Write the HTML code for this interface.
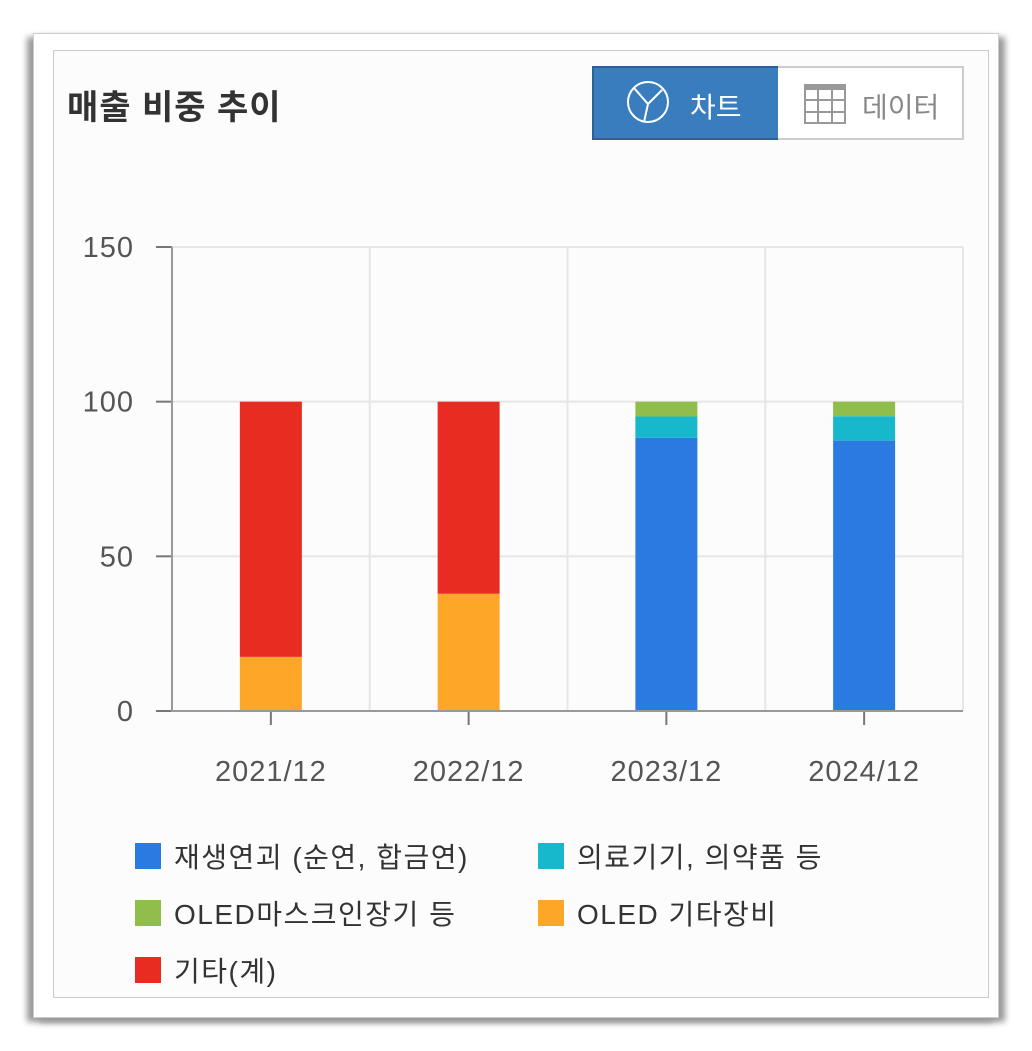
<!DOCTYPE html>
<html><head><meta charset="utf-8"><style>
body{margin:0;width:1032px;height:1051px;background:#fff;font-family:"Liberation Sans","Noto Sans CJK KR",sans-serif;position:relative;overflow:hidden}
#outer{position:absolute;left:33px;top:33px;width:964px;height:983px;border:1px solid #ccc;background:#fff;box-shadow:-6px 4px 6px #999,6px 4px 6px #999}
#inner{position:absolute;left:53px;top:50px;width:934px;height:946px;border:1px solid #ccc;background:#fdfcfd}
.t{position:absolute;white-space:nowrap}
</style></head><body>
<div id="outer"></div>
<div id="inner"></div>
<div class="t" style="left:67px;top:80px;font-size:34px;font-weight:bold;color:#333;letter-spacing:1px">매출 비중 추이</div>
<div style="position:absolute;left:592px;top:66px;width:184px;height:70px;background:#3a7dbf;border:2px solid #2b609a">
<svg width="50" height="50" style="position:absolute;left:32px;top:12px"><circle cx="22" cy="22" r="20" fill="none" stroke="#fff" stroke-width="2"/><path d="M8 8L22 24L36 10M22 24L18 42" fill="none" stroke="#fff" stroke-width="2"/></svg>
<span class="t" style="left:96px;top:18px;font-size:28px;color:#fff">차트</span></div>
<div style="position:absolute;left:778px;top:66px;width:184px;height:70px;background:#fff;border:2px solid #ccc;border-left:none">
<svg width="44" height="44" style="position:absolute;left:26px;top:16px"><rect x="1" y="1" width="40" height="38" fill="none" stroke="#999" stroke-width="2"/><rect x="1" y="1" width="40" height="5" fill="#999"/><path d="M14 1V39M28 1V39M1 16H41M1 28H41" stroke="#999" stroke-width="2"/></svg>
<span class="t" style="left:84px;top:18px;font-size:28px;color:#888">데이터</span></div>
<svg id="c" width="1032" height="1051" style="position:absolute;left:0;top:0"></svg>
<script>
const categories=["2021/12","2022/12","2023/12","2024/12"];
const seriesNames=["재생연괴 (순연, 합금연)","의료기기, 의약품 등","OLED마스크인장기 등","OLED 기타장비","기타(계)"];
const colors=["#2a7ae2","#17b8cc","#8fbf4a","#fda628","#e82c22"];
const s0=[0,0,88.3,87.4];
const s1=[0,0,6.9,7.9];
const s2=[0,0,4.8,4.7];
const s3=[17.5,37.9,0,0];
const s4=[82.5,62.1,0,0];
const series=[s0,s1,s2,s3,s4];
const stackOrder=[3,0,1,2,4];
const yTicks=[0,50,100,150];
const svg=document.getElementById('c'),NS="http://www.w3.org/2000/svg";
const X0=172,X1=963,Y0=711,Y1=247,ymax=150;
const bw=(X1-X0)/categories.length;
const y=v=>Y0-(v/ymax)*(Y0-Y1);
const xc=i=>X0+bw*(i+0.5);
function mk(t,a){const e=document.createElementNS(NS,t);for(const k in a)e.setAttribute(k,a[k]);svg.appendChild(e);return e;}
yTicks.forEach(t=>{
 let l=mk('line',{x1:X0,x2:X1,y1:y(t),y2:y(t),stroke:'#e6e6e6','stroke-width':2});
 
 let k=mk('line',{x1:X0-16,x2:X0,y1:y(t),y2:y(t),stroke:'#777','stroke-width':2});
 
 let tx=mk('text',{x:X0-38,y:y(t)+10,'text-anchor':'end','font-size':29,fill:'#555','font-family':'Liberation Sans, sans-serif','letter-spacing':1});tx.textContent=t;
 
});
categories.forEach((c,i)=>{
 let g=mk('line',{x1:X0+bw*(i+1),x2:X0+bw*(i+1),y1:Y1,y2:Y0,stroke:'#e6e6e6','stroke-width':2});
 
 let base=0;
 stackOrder.forEach(si=>{const v=series[si][i];if(!v)return;
  let r=mk('rect',{x:xc(i)-31,y:y(base+v),width:62,height:y(base)-y(base+v),fill:colors[si]});
  
  base+=v;});
 let k=mk('line',{x1:xc(i),x2:xc(i),y1:Y0,y2:Y0+14,stroke:'#777','stroke-width':2});
 
 let tx=mk('text',{x:xc(i),y:781,'text-anchor':'middle','font-size':29,fill:'#555','font-family':'Liberation Sans, sans-serif','letter-spacing':1});tx.textContent=c;
 
});
let ax=mk('line',{x1:X0,x2:X0,y1:Y1,y2:Y0+1,stroke:'#999','stroke-width':2});

let bx=mk('line',{x1:X0,x2:X1,y1:Y0,y2:Y0,stroke:'#999','stroke-width':2});

const lp=[[135,843],[538,843],[135,900],[538,900],[135,957]];
seriesNames.forEach((n,i)=>{
 let r=mk('rect',{x:lp[i][0],y:lp[i][1],width:26,height:26,fill:colors[i]});
 
 let t=mk('text',{x:lp[i][0]+39,y:lp[i][1]+24,'font-size':28,fill:'#333','font-family':'Liberation Sans, Noto Sans CJK KR, sans-serif','letter-spacing':1.5});t.textContent=n;
 
});
</script>
</body></html>
